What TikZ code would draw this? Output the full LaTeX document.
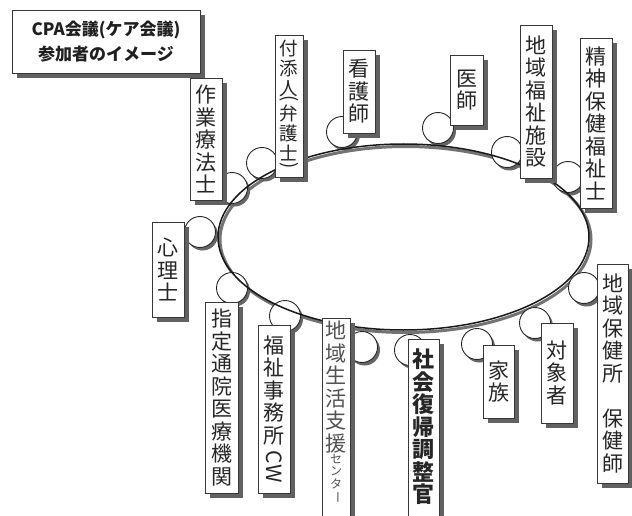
\documentclass[tikz,border=0pt]{standalone}
\usepackage{graphicx}
\usepackage{fontspec}
\newfontfamily\jp{Noto Sans CJK JP}
\usetikzlibrary{shadows,shapes.geometric}

% one sideways glyph, turned a quarter clockwise about its centre
\newcommand{\sidechar}[1]{\rotatebox[origin=c]{-90}{#1}}

\begin{document}
\begin{tikzpicture}[x=1pt,y=-1pt]
\useasboundingbox[fill=white] (0,0) rectangle (632,516);
\tikzset{
  boxshadow/.style={drop shadow={shadow xshift=5pt, shadow yshift=-5pt, fill=black!62, opacity=1}},
  vbox/.style={draw=black!78, line width=0.9pt, fill=white, boxshadow, inner sep=0pt,
               align=center, text=black!85, font=\jp\fontsize{21}{22.5}\selectfont},
  vtext/.style={inner sep=0pt, align=center, text=black!85, font=\jp\fontsize{21}{22.5}\selectfont},
  bead/.style={circle, draw=black!85, line width=0.9pt, fill=white, minimum size=31pt, inner sep=0pt,
               drop shadow={shadow xshift=2.5pt, shadow yshift=-3pt, fill=black!60, opacity=1}},
  ringstyle/.style={ellipse, minimum width=371pt, minimum height=186pt, inner sep=0pt}
}

% title
\node[draw=black!78, line width=0.9pt, fill=white, boxshadow, minimum width=188pt, minimum height=63pt,
      align=center, text=black!88, font=\jp\bfseries\fontsize{17}{25}\selectfont]
  (title) at (106,41.5) {CPA会議(ケア会議)\\参加者のイメージ};

% shadow of the ring
\node[ringstyle, draw=black!55, line width=3pt] (ringshadow) at (405.5,239.5) {};

% beads round the ring
\node[bead] (r1)  at (232,188) {};
\node[bead] (r2)  at (262,163) {};
\node[bead] (r3)  at (342,132) {};
\node[bead] (r4)  at (438,128) {};
\node[bead] (r5)  at (507,152) {};
\node[bead] (r6)  at (568,177) {};
\node[bead] (r7)  at (200,232) {};
\node[bead] (r8)  at (232,288) {};
\node[bead] (r9)  at (285,316) {};
\node[bead] (r10) at (362,347) {};
\node[bead] (r11) at (410,350) {};
\node[bead] (r12) at (477,344) {};
\node[bead] (r13) at (535,323) {};
\node[bead] (r14) at (584,288) {};

% the ring
\node[ringstyle, draw=black!90, line width=1.5pt] (ring) at (403.5,237) {};

% upper labels
\node[vbox, minimum width=32pt, minimum height=122pt] (ot) at (206,139) {作\\業\\療\\法\\士};
\node[vbox, minimum width=28pt, minimum height=142pt, font=\jp\fontsize{18.5}{20}\selectfont]
  (att) at (289,106) {付\\添\\人\\[-11pt]\sidechar{(}\\[-4pt]弁\\護\\士\\[-9pt]\sidechar{)}};
\node[vbox, minimum width=32pt, minimum height=83pt] (ns) at (359,91.5) {看\\護\\師};
\node[vbox, minimum width=33pt, minimum height=70pt] (dr) at (466.5,90) {医\\師};
\node[vbox, minimum width=32pt, minimum height=153pt] (fac) at (536,101.5) {地\\域\\福\\祉\\施\\設};
\node[vbox, minimum width=32pt, minimum height=170pt] (psw) at (596,123) {精\\神\\保\\健\\福\\祉\\士};

% left labels
\node[vbox, minimum width=32pt, minimum height=95pt] (cp) at (168,269.5) {心\\理\\士};
\node[vbox, minimum width=33pt, minimum height=191pt] (hosp) at (221.5,397.5) {指\\定\\通\\院\\医\\療\\機\\関};
\node[vbox, minimum width=32pt, minimum height=168pt] (cw) at (274,409)
  {福\\祉\\事\\務\\所\\[5pt]\sidechar{CW}};

% lower labels
\node[vbox, minimum width=28pt, minimum height=212pt, anchor=north] (sup) at (336,318) {};
\node[vtext, anchor=north, text=black!68] (suptext) at ([yshift=-3pt]sup.north)
  {地\\域\\生\\活\\支\\援\\{\fontsize{12}{12}\selectfont\shortstack{セ\\ン\\タ\\\sidechar{ー}}}};
\node[vbox, minimum width=31pt, minimum height=191pt, anchor=north] (pro) at (423.5,339) {};
\node[vtext, anchor=north, font=\jp\bfseries\fontsize{22}{22.5}\selectfont] (protext) at ([yshift=-10pt]pro.north)
  {社\\会\\復\\帰\\調\\整\\官};
\node[vbox, minimum width=31pt, minimum height=73pt] (fam) at (498.5,381.5) {家\\族};
\node[vbox, minimum width=32pt, minimum height=100pt] (pt) at (557,373) {対\\象\\者};
\node[vbox, minimum width=31pt, minimum height=219pt] (ph) at (612.5,373.5)
  {地\\域\\保\\健\\所\\[22.5pt]保\\健\\師};
\end{tikzpicture}
\end{document}
